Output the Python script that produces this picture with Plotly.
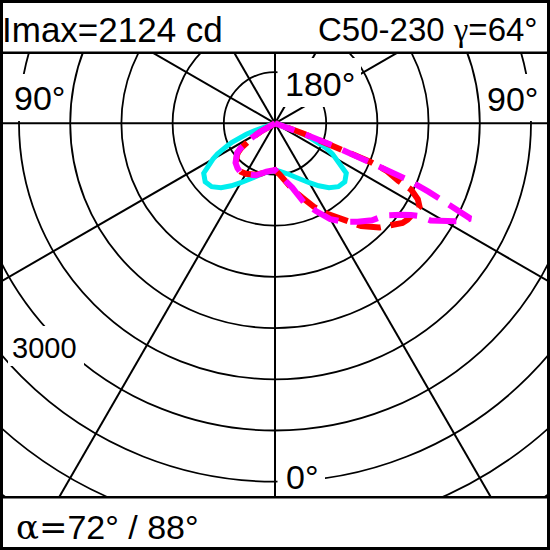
import numpy as np
import plotly.graph_objects as go

# ---------------- data ----------------
# luminous intensity in cd versus gamma angle (deg, 0 = straight down)
CYAN_GAMMA = [0, 5, 10, 15, 20, 25, 30, 35, 40, 45, 50, 55, 60, 62, 64, 65, 66, 67, 68, 69, 70, 71, 72, 73, 80, 90]
CYAN_CD    = [456, 470, 485, 515, 555, 610, 670, 745, 820, 875, 890, 850, 700, 635, 560, 510, 465, 415, 360, 300, 215, 120, 50, 0, 0, 0]

RED_R_GAMMA = [0, 5, 10, 15, 20, 25, 30, 35, 40, 45, 50, 52, 54, 56, 58, 60, 62, 64, 65, 66, 67, 68, 69, 70, 71, 72, 80, 90]
RED_R_CD    = [456, 500, 580, 670, 770, 900, 1020, 1140, 1310, 1440, 1540, 1580, 1600, 1610, 1615, 1630, 1580, 1480, 1330, 1240, 1180, 1000, 650, 300, 100, 0, 0, 0]
RED_L_GAMMA = [0, 10, 20, 30, 35, 40, 45, 50, 52, 54, 56, 58, 60, 62, 64, 65, 80, 90]
RED_L_CD    = [456, 478, 535, 570, 578, 565, 535, 485, 455, 405, 335, 250, 160, 85, 25, 0, 0, 0]

MAG_R_GAMMA = [0, 5, 10, 15, 20, 25, 30, 35, 40, 45, 50, 52, 54, 56, 57, 58, 60, 62, 64, 65, 66, 67, 68, 69, 70, 71, 72, 80, 90]
MAG_R_CD    = [456, 505, 560, 650, 820, 945, 1080, 1175, 1255, 1340, 1400, 1450, 1520, 1600, 1660, 1790, 1920, 2040, 2124, 1880, 1640, 1400, 1000, 600, 300, 100, 0, 0, 0]
MAG_L_GAMMA = [0, 10, 20, 30, 35, 40, 45, 50, 52, 54, 56, 58, 60, 62, 64, 65, 80, 90]
MAG_L_CD    = [456, 480, 540, 575, 585, 570, 545, 495, 470, 420, 350, 260, 170, 90, 30, 0, 0, 0]

IMAX_CD = 2124
PLANE = "C50-230"
GAMMA_IMAX = 64
BEAM_ANGLES = [72, 88]
GRID_STEP_CD = 500
GRID_COUNT = 10
RADIAL_DEG = list(range(0, 360, 30))
SCALE_LABEL = "3000"

# ---------------- geometry ----------------
W = H = 550
PX_PER_CD = 51.2 / 500.0
CX, CY = 275.0, 123.3  # pole position in pixels


def side_xy(gamma, cd, sign):
    g = np.radians(np.asarray(gamma, float))
    r = np.asarray(cd, float)
    return sign * r * np.sin(g), -r * np.cos(g)


def closed_curve(gl, il, gr, ir):
    xl, yl = side_xy(gl, il, -1)
    xr, yr = side_xy(gr, ir, 1)
    return np.concatenate([xl[::-1], xr]), np.concatenate([yl[::-1], yr])


def pp(px, py):
    return px / W, 1 - py / H


fig = go.Figure()

for (gl, il, gr, ir, color, width, dash) in [
    (CYAN_GAMMA, CYAN_CD, CYAN_GAMMA, CYAN_CD, "#00EEEE", 5, "solid"),
    (RED_L_GAMMA, RED_L_CD, RED_R_GAMMA, RED_R_CD, "#FF0000", 6, "24px,10px"),
    (MAG_L_GAMMA, MAG_L_CD, MAG_R_GAMMA, MAG_R_CD, "#FF00FF", 6, "28px,12px"),
]:
    x, y = closed_curve(gl, il, gr, ir)
    fig.add_trace(go.Scatter(x=x, y=y, mode="lines",
                             line=dict(color=color, width=width, dash=dash),
                             hoverinfo="skip"))

shapes = []
# concentric circles
for k in range(1, GRID_COUNT + 1):
    R = k * GRID_STEP_CD
    shapes.append(dict(type="circle", xref="x", yref="y", x0=-R, x1=R, y0=-R, y1=R,
                       line=dict(color="black", width=1.8), layer="below"))
# radial lines
L = 9000
for d in RADIAL_DEG:
    a = np.radians(d)
    shapes.append(dict(type="line", xref="x", yref="y", x0=0, y0=0,
                       x1=L * np.sin(a), y1=-L * np.cos(a),
                       line=dict(color="black", width=2), layer="below"))


def prect(x0, y0, x1, y1, fill="white", line=None):
    a0, b0 = pp(x0, y1)
    a1, b1 = pp(x1, y0)
    d = dict(type="rect", xref="paper", yref="paper", x0=a0, x1=a1, y0=b0, y1=b1,
             fillcolor=fill, layer="above")
    d["line"] = line if line else dict(width=0)
    return d


# label backgrounds
for box in [(3, 74, 68, 121), (483, 74, 547, 121), (277.5, 58, 361, 107),
            (277.5, 450, 325, 496), (8, 326, 84, 366)]:
    shapes.append(prect(*box))
# header / footer blocks
shapes.append(prect(0, 0, 550, 52.7))
shapes.append(prect(0, 497.2, 550, 550))
for yy in (52.7, 497.2):
    a0, b = pp(0, yy)
    shapes.append(dict(type="line", xref="paper", yref="paper", x0=0, x1=1, y0=b, y1=b,
                       line=dict(color="black", width=2.4), layer="above"))
# outer frame
a0, b0 = pp(1.5, 548.5)
a1, b1 = pp(548.5, 1.5)
shapes.append(dict(type="rect", xref="paper", yref="paper", x0=a0, x1=a1, y0=b0, y1=b1,
                   line=dict(color="black", width=3), fillcolor="rgba(0,0,0,0)", layer="above"))

SANS = "Liberation Sans, Arial, sans-serif"
SERIF = "Liberation Serif, serif"
SYM = "DejaVu Serif, serif"


def ann(text, px, py, size, xanchor="center"):
    x, y = pp(px, py)
    return dict(text=text, x=x, y=y, xref="paper", yref="paper", xanchor=xanchor,
                yanchor="middle", showarrow=False, borderpad=0,
                font=dict(family=SANS, size=size, color="black"))


annotations = [
    ann(f"Imax={IMAX_CD} cd", 1, 29, 35, "left"),
    ann(f"{PLANE} <span style=\"font-family:{SERIF}\">γ</span>={GAMMA_IMAX}°", 539, 29, 33, "right"),
    ann("90°", 39, 98.2, 34),
    ann("90°", 512.5, 98.5, 34),
    ann("180°", 319.5, 83.5, 34),
    ann("0°", 302, 476.5, 34),
    ann(SCALE_LABEL, 44.5, 347.5, 29),
    ann(f"<span style=\"font-family:{SYM}\">α=</span>{BEAM_ANGLES[0]}° / {BEAM_ANGLES[1]}°", 15, 526.5, 34, "left"),
]

fig.update_layout(
    width=W, height=H, margin=dict(l=0, r=0, t=0, b=0),
    paper_bgcolor="white", plot_bgcolor="white", showlegend=False,
    xaxis=dict(range=[-CX / PX_PER_CD, (W - CX) / PX_PER_CD], visible=False, fixedrange=True),
    yaxis=dict(range=[(CY - H) / PX_PER_CD, CY / PX_PER_CD], visible=False, fixedrange=True),
    shapes=shapes, annotations=annotations,
)

fig.write_html("out.html", config={"displayModeBar": False},
               post_script="document.body.style.margin='0';document.body.style.overflow='hidden';")
